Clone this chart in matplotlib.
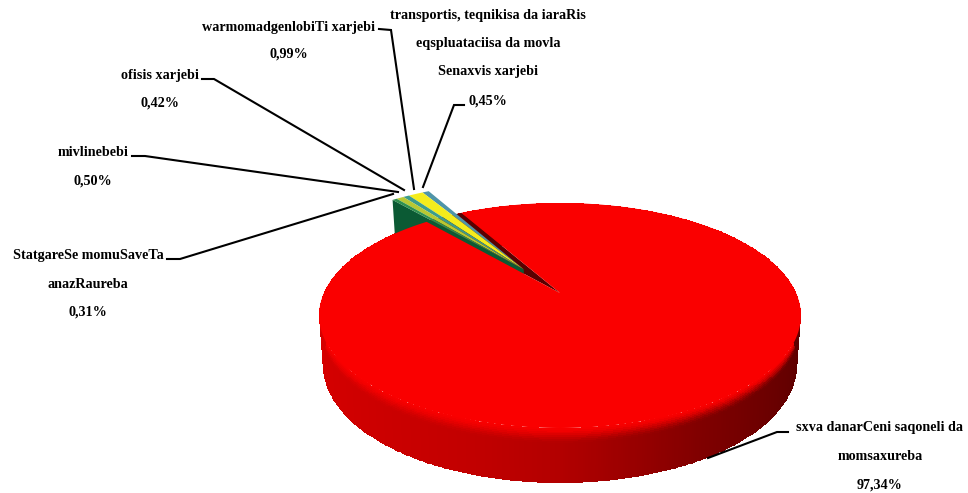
import numpy as np
import matplotlib
matplotlib.use('Agg')
import matplotlib.pyplot as plt

# category text, one entry per line of the label
slice_labels = [
    ["sxva danarCeni saqoneli da", "momsaxureba", "97,34%"],
    ["transportis, teqnikisa da iaraRis", "eqspluataciisa da movla", "Senaxvis xarjebi", "0,45%"],
    ["warmomadgenlobiTi xarjebi", "0,99%"],
    ["ofisis xarjebi", "0,42%"],
    ["mivlinebebi", "0,50%"],
    ["StatgareSe momuSaveTa", "anazRaureba", "0,31%"],
]
values = [97.34, 0.45, 0.99, 0.42, 0.50, 0.31]
slice_colors = ['#ff0000', '#4f94a8', '#f4ec1c', '#3c9c8c', '#b8c832', '#2f8f4f']

# label placement in pixels
label_x = [880, 488, 289, 160, 93, 88]
label_y = [[428, 457, 485], [15, 44, 72, 101], [27, 54], [75, 103], [152, 181], [255, 285, 312]]
leaders = [
    [(788, 432), (777, 432), (708, 458)],
    [(464, 105), (454, 105), (423, 187)],
    [(379, 29), (391, 30), (414, 189)],
    [(202, 79), (214, 79), (404, 190)],
    [(132, 156), (145, 156), (398, 192)],
    [(167, 259), (180, 259), (393, 194)],
]

# pie geometry: perspective projection of a unit disc to pixels
xc, R = 560, 236
persp, y_a, y_b = 0.2, -49.4, 293
gap_mid = 125.0   # middle of the pulled out slices, degrees
explode = 0.28
small_stretch = 1.17  # the small slices look wider in the 3d view
small_radius = 1.07


def project(u, v, t=0.0):
    """ Unit disc coords to pixel coords, t=1 is the bottom of the pie. """
    w = persp * v + 1
    x = xc + R * u * (1 - 0.015 * t) / w
    y = (y_a * v + y_b) / w + t * (47 - 8 * v)
    return x, y


def arc(a1, a2, n=200):
    a = np.radians(np.linspace(a1, a2, n))
    return np.cos(a), np.sin(a)


fig = plt.figure(figsize=(9.68, 4.93), dpi=100)
ax = fig.add_axes([0, 0, 1, 1])
ax.set_xlim(0, 968)
ax.set_ylim(493, 0)
ax.axis('off')

total = sum(values)
sweeps = [v / total * 360 * small_stretch for v in values]
small_sweep = sum(sweeps[1:])
start_small = gap_mid - small_sweep / 2
end_small = gap_mid + small_sweep / 2

# side of the big slice, shaded from left to right
u, v = arc(0, 360, 721)
ts = np.linspace(0, 1, 31)
U = np.outer(np.ones_like(ts), u)
V = np.outer(np.ones_like(ts), v)
T = np.outer(ts, np.ones_like(u))
X, Y = project(U, V, T)
s = (U[:-1, :-1] + U[1:, 1:]) / 2
side = np.interp(s, [-1, -0.3, 0, 0.5, 1], [0.84, 0.76, 0.70, 0.50, 0.36])
blend = np.clip(((T[:-1, :-1] + T[1:, 1:]) / 2) / 0.28, 0, 1)
blend = blend * blend * (3 - 2 * blend)
red = 0.97 * (1 - blend) + side * blend
C = np.dstack([red, np.zeros_like(red), np.zeros_like(red)])
ax.pcolormesh(X, Y, C, shading='flat', rasterized=True)

# dark gap left by the pulled out slices
gu, gv = arc(end_small, start_small, 20)
gx, gy = project(np.r_[0, gu], np.r_[0, gv])
ax.fill(gx, gy, color='#5a0000', lw=0)

# pulled out slices
du = explode * np.cos(np.radians(gap_mid))
dv = explode * np.sin(np.radians(gap_mid))

# cut face of the last slice
edge = small_radius * np.array([0, 1])
wall_u = edge * np.cos(np.radians(end_small)) + du
wall_v = edge * np.sin(np.radians(end_small)) + dv
x1, y1 = project(wall_u, wall_v, 0)
x2, y2 = project(wall_u, wall_v, 1)
ax.fill(np.r_[x1, x2[::-1]], np.r_[y1, y2[::-1]], color='#0b5a34', lw=0)

# big slice top
ru, rv = arc(end_small, start_small + 360, 720)
rx, ry = project(np.r_[0, ru], np.r_[0, rv])
ax.fill(rx, ry, color='#fa0000', lw=0)

# small slice tops
a0 = start_small
for val, col in zip(sweeps[1:], slice_colors[1:]):
    su, sv = arc(a0, a0 + val, 12)
    sx, sy = project(np.r_[0, su * small_radius] + du, np.r_[0, sv * small_radius] + dv)
    ax.fill(sx, sy, color=col, lw=0)
    a0 += val

# leader lines and labels
for pts in leaders:
    ax.plot([p[0] for p in pts], [p[1] for p in pts], color='black', lw=1.5, solid_joinstyle='miter')

for lines, x, ys in zip(slice_labels, label_x, label_y):
    for line, y in zip(lines, ys):
        ax.text(x, y, line, ha='center', va='center', family='Liberation Serif',
                fontweight='bold', fontsize=10.2, color='black')

fig.savefig('out.png', dpi=100)
